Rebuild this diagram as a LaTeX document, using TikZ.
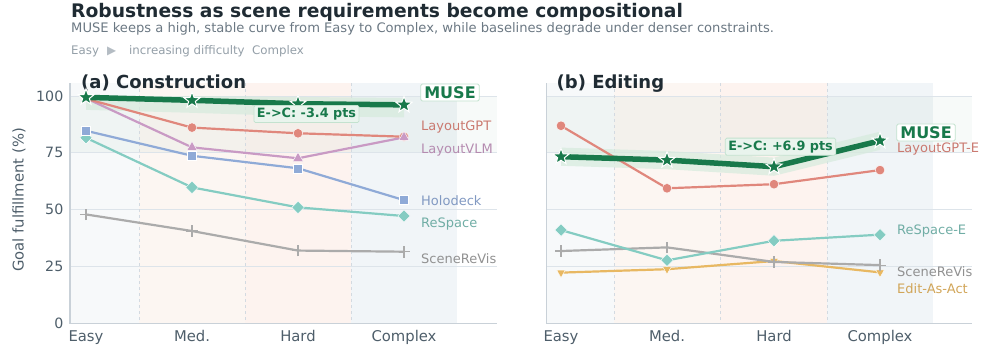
\documentclass[tikz,border=0pt]{standalone}
\usepackage{fontspec}
\setmainfont{DejaVu Sans}
\usetikzlibrary{shapes.geometric,shapes.misc}

\definecolor{musegreen}{HTML}{18794B}
\definecolor{museband}{HTML}{D6EBDD}
\definecolor{gptred}{HTML}{E0877C}
\definecolor{vlmpink}{HTML}{C99AC4}
\definecolor{holoblue}{HTML}{8FAAD7}
\definecolor{respteal}{HTML}{84CCC2}
\definecolor{revisgray}{HTML}{ABABAB}
\definecolor{actgold}{HTML}{E8B862}
\definecolor{inkdark}{HTML}{1F2B33}
\definecolor{inkgray}{HTML}{6B7883}
\definecolor{inklight}{HTML}{949FA8}
\definecolor{arrowgray}{HTML}{B4BCC3}
\definecolor{tickink}{HTML}{4E5E6A}
\definecolor{gridc}{HTML}{DDE4EA}
\definecolor{spinec}{HTML}{C9D1D8}
\definecolor{dividerc}{HTML}{D3DAE1}
\definecolor{bandeasy}{HTML}{F7F9FA}
\definecolor{bandmed}{HTML}{FCF6F2}
\definecolor{bandhard}{HTML}{FDF3EF}
\definecolor{bandcomplex}{HTML}{F1F5F8}
\definecolor{boxfill}{HTML}{E9F4ED}
\definecolor{boxedge}{HTML}{C3E2CF}

\tikzset{
  series/.style={line width=2.2pt, line join=round, line cap=round},
  museline/.style={line width=5.5pt, musegreen, line join=round, line cap=round},
  starmark/.style={star, star points=5, star point ratio=2.4, fill=musegreen, draw=white, line width=1pt, minimum size=17pt, inner sep=0pt},
  dotmark/.style={circle, draw=white, line width=0.4pt, minimum size=9.5pt, inner sep=0pt},
  trimark/.style={regular polygon, regular polygon sides=3, draw=white, line width=0.4pt, minimum size=12pt, inner sep=0pt},
  downmark/.style={trimark, shape border rotate=180},
  boxmark/.style={rectangle, minimum size=9pt, inner sep=0pt, draw=white, line width=0.4pt},
  diamark/.style={diamond, minimum size=12.5pt, inner sep=0pt, draw=white, line width=0.4pt},
  plusmark/.style={cross out, rotate=45, draw, line width=1.2pt, minimum size=7pt, inner sep=0pt},
  seriestag/.style={anchor=west, inner sep=0pt, font=\fontsize{13}{15}\selectfont},
  musetag/.style={draw=boxedge, fill=white, line width=0.8pt, rounded corners=1.5pt, inner xsep=3.5pt, inner ysep=2.5pt, text=musegreen, font=\bfseries\fontsize{16}{18}\selectfont},
  gaptag/.style={draw=boxedge, fill=boxfill, line width=0.8pt, rounded corners=1.5pt, inner xsep=3pt, inner ysep=2.5pt, text=musegreen, font=\bfseries\fontsize{12.8}{14}\selectfont},
  ticktag/.style={text=tickink, inner sep=0pt, font=\fontsize{14.2}{16}\selectfont},
  xtag/.style={text=tickink, inner sep=0pt, anchor=base, font=\fontsize{14.8}{16}\selectfont},
  leadtag/.style={anchor=base west, inner sep=0pt, text=inklight, font=\fontsize{11.8}{13}\selectfont},
  paneltitle/.style={anchor=base west, inner sep=0pt, text=inkdark, font=\bfseries\fontsize{18}{20}\selectfont},
  gridline/.style={gridc, line width=0.8pt},
  spine/.style={spinec, line width=1.2pt},
  divider/.style={dividerc, line width=0.8pt, dashed}
}

\begin{document}
\begin{tikzpicture}[x=1pt,y=1pt]
\useasboundingbox (0,0) rectangle (981,-348);

% heading
\node[anchor=base west, inner sep=0pt, text=inkdark, font=\bfseries\fontsize{18.7}{20}\selectfont] (title) at (71,-17.5) {Robustness as scene requirements become compositional};
\node[anchor=base west, inner sep=0pt, text=inkgray, font=\fontsize{13.1}{15}\selectfont] (subtitle) at (71,-32.5) {MUSE keeps a high, stable curve from Easy to Complex, while baselines degrade under denser constraints.};
\node[leadtag] (leadeasy) at (71,-54.3) {Easy};
\node[leadtag, text=arrowgray] (leadarrow) at (107,-54.3) {▶};
\node[leadtag] (leadmid) at (129,-54.3) {increasing difficulty};
\node[leadtag] (leadcomplex) at (252,-54.3) {Complex};

% difficulty bands
\fill[bandeasy] (70,-83) rectangle (139,-323);
\fill[bandmed] (139,-83) rectangle (245,-323);
\fill[bandhard] (245,-83) rectangle (351,-323);
\fill[bandcomplex] (351,-83) rectangle (457,-323);
\fill[bandeasy] (546.7,-83) rectangle (614,-323);
\fill[bandmed] (614,-83) rectangle (720,-323);
\fill[bandhard] (720,-83) rectangle (827,-323);
\fill[bandcomplex] (827,-83) rectangle (933,-323);

\begin{scope}[shift={(0,-323.3)},y=2.273pt]
% high zone tint
\fill[musegreen,opacity=0.035] (70,75) rectangle (497,100);
\fill[musegreen,opacity=0.035] (546.7,75) rectangle (972,100);
% grid
\draw[gridline] (70,25) -- (497,25);
\draw[gridline] (70,50) -- (497,50);
\draw[gridline] (70,75) -- (497,75);
\draw[gridline] (70,100) -- (497,100);
\draw[gridline] (546.7,25) -- (972,25);
\draw[gridline] (546.7,50) -- (972,50);
\draw[gridline] (546.7,75) -- (972,75);
\draw[gridline] (546.7,100) -- (972,100);
\end{scope}

\draw[divider] (139,-83) -- (139,-323);
\draw[divider] (245,-83) -- (245,-323);
\draw[divider] (351,-83) -- (351,-323);
\draw[divider] (614,-83) -- (614,-323);
\draw[divider] (720,-83) -- (720,-323);
\draw[divider] (827,-83) -- (827,-323);

% axes
\draw[spine] (70,-83) -- (70,-323.3) -- (497,-323.3);
\draw[spine] (546.7,-83) -- (546.7,-323.3) -- (972,-323.3);

\node[ticktag, anchor=east] (t0) at (63.5,-323.3) {0};
\node[ticktag, anchor=east] (t25) at (63.5,-266.5) {25};
\node[ticktag, anchor=east] (t50) at (63.5,-209.7) {50};
\node[ticktag, anchor=east] (t75) at (63.5,-152.8) {75};
\node[ticktag, anchor=east] (t100) at (63.5,-96) {100};
\node[ticktag, rotate=90, font=\fontsize{14.8}{16}\selectfont] (ylab) at (19,-200) {Goal fulfillment (\%)};

\node[xtag] (xa1) at (86,-341.5) {Easy};
\node[xtag] (xa2) at (192,-341.5) {Med.};
\node[xtag] (xa3) at (298,-341.5) {Hard};
\node[xtag] (xa4) at (404,-341.5) {Complex};
\node[xtag] (xb1) at (561,-341.5) {Easy};
\node[xtag] (xb2) at (667,-341.5) {Med.};
\node[xtag] (xb3) at (774,-341.5) {Hard};
\node[xtag] (xb4) at (880,-341.5) {Complex};

\node[paneltitle] (pa) at (81,-88) {(a) Construction};
\node[paneltitle] (pb) at (556.5,-88) {(b) Editing};

\begin{scope}[shift={(0,-323.3)},y=2.273pt]
% (a) Construction
\fill[museband,opacity=0.7] (86,100) -- (192,100) -- (298,99.6) -- (404,99.1) -- (404,90.6) -- (298,91.1) -- (192,92.6) -- (86,93.9) -- cycle;

\coordinate (arv1) at (86,47.9); \coordinate (arv2) at (192,40.6); \coordinate (arv3) at (298,32.0); \coordinate (arv4) at (404,31.5);
\draw[series,revisgray] (arv1) -- (arv2) -- (arv3) -- (arv4);
\node[plusmark,revisgray] (marv1) at (arv1) {};
\node[plusmark,revisgray] (marv2) at (arv2) {};
\node[plusmark,revisgray] (marv3) at (arv3) {};
\node[plusmark,revisgray] (marv4) at (arv4) {};

\coordinate (asp1) at (86,81.6); \coordinate (asp2) at (192,59.8); \coordinate (asp3) at (298,51.0); \coordinate (asp4) at (404,47.2);
\draw[series,respteal] (asp1) -- (asp2) -- (asp3) -- (asp4);
\node[diamark,fill=respteal] (masp1) at (asp1) {};
\node[diamark,fill=respteal] (masp2) at (asp2) {};
\node[diamark,fill=respteal] (masp3) at (asp3) {};
\node[diamark,fill=respteal] (masp4) at (asp4) {};

\coordinate (aho1) at (86,84.7); \coordinate (aho2) at (192,73.7); \coordinate (aho3) at (298,68.2); \coordinate (aho4) at (404,54.2);
\draw[series,holoblue] (aho1) -- (aho2) -- (aho3) -- (aho4);
\node[boxmark,fill=holoblue] (maho1) at (aho1) {};
\node[boxmark,fill=holoblue] (maho2) at (aho2) {};
\node[boxmark,fill=holoblue] (maho3) at (aho3) {};
\node[boxmark,fill=holoblue] (maho4) at (aho4) {};

\coordinate (avl1) at (86,99.0); \coordinate (avl2) at (192,77.4); \coordinate (avl3) at (298,72.6); \coordinate (avl4) at (404,81.8);
\draw[series,vlmpink] (avl1) -- (avl2) -- (avl3) -- (avl4);
\node[trimark,fill=vlmpink] (mavl2) at (avl2) {};
\node[trimark,fill=vlmpink] (mavl3) at (avl3) {};

\coordinate (agp1) at (86,98.8); \coordinate (agp2) at (192,86.1); \coordinate (agp3) at (298,83.6); \coordinate (agp4) at (404,82.1);
\draw[series,gptred] (agp1) -- (agp2) -- (agp3) -- (agp4);
\node[dotmark,fill=gptred] (magp2) at (agp2) {};
\node[dotmark,fill=gptred] (magp3) at (agp3) {};
\node[dotmark,fill=gptred,opacity=0.8] (magp4) at (agp4) {};
\node[trimark,fill=vlmpink] (mavl4) at (avl4) {};

\coordinate (amu1) at (86,99.4); \coordinate (amu2) at (192,98.1); \coordinate (amu3) at (298,96.6); \coordinate (amu4) at (404,96.1);
\draw[museline] (amu1) -- (amu2) -- (amu3) -- (amu4);
\node[starmark] (mamu1) at (amu1) {};
\node[starmark] (mamu2) at (amu2) {};
\node[starmark] (mamu3) at (amu3) {};
\node[starmark] (mamu4) at (amu4) {};

% (b) Editing
\fill[museband,opacity=0.7] (561,77.3) -- (667,75.8) -- (774,72.9) -- (880,84.3) -- (880,76.3) -- (774,64.9) -- (667,67.8) -- (561,69.3) -- cycle;

\coordinate (bac1) at (561,22.3); \coordinate (bac2) at (667,23.8); \coordinate (bac3) at (774,27.4); \coordinate (bac4) at (880,22.4);
\draw[series,actgold] (bac1) -- (bac2) -- (bac3) -- (bac4);
\node[downmark,fill=actgold,minimum size=10pt] (mbac1) at (bac1) {};
\node[downmark,fill=actgold,minimum size=10pt] (mbac2) at (bac2) {};
\node[downmark,fill=actgold,minimum size=10pt] (mbac3) at (bac3) {};
\node[downmark,fill=actgold,minimum size=10pt] (mbac4) at (bac4) {};

\coordinate (brv1) at (561,31.8); \coordinate (brv2) at (667,33.4); \coordinate (brv3) at (774,27.0); \coordinate (brv4) at (880,25.6);
\draw[series,revisgray] (brv1) -- (brv2) -- (brv3) -- (brv4);
\node[plusmark,revisgray] (mbrv1) at (brv1) {};
\node[plusmark,revisgray] (mbrv2) at (brv2) {};
\node[plusmark,revisgray] (mbrv3) at (brv3) {};
\node[plusmark,revisgray] (mbrv4) at (brv4) {};

\coordinate (bsp1) at (561,41.0); \coordinate (bsp2) at (667,27.7); \coordinate (bsp3) at (774,36.3); \coordinate (bsp4) at (880,39.0);
\draw[series,respteal] (bsp1) -- (bsp2) -- (bsp3) -- (bsp4);
\node[diamark,fill=respteal] (mbsp1) at (bsp1) {};
\node[diamark,fill=respteal] (mbsp2) at (bsp2) {};
\node[diamark,fill=respteal] (mbsp3) at (bsp3) {};
\node[diamark,fill=respteal] (mbsp4) at (bsp4) {};

\coordinate (bgp1) at (561,86.9); \coordinate (bgp2) at (667,59.4); \coordinate (bgp3) at (774,61.2); \coordinate (bgp4) at (880,67.4);
\draw[series,gptred] (bgp1) -- (bgp2) -- (bgp3) -- (bgp4);
\node[dotmark,fill=gptred] (mbgp1) at (bgp1) {};
\node[dotmark,fill=gptred] (mbgp2) at (bgp2) {};
\node[dotmark,fill=gptred] (mbgp3) at (bgp3) {};
\node[dotmark,fill=gptred] (mbgp4) at (bgp4) {};

\coordinate (bmu1) at (561,73.3); \coordinate (bmu2) at (667,71.8); \coordinate (bmu3) at (774,68.9); \coordinate (bmu4) at (880,80.3);
\draw[museline] (bmu1) -- (bmu2) -- (bmu3) -- (bmu4);
\node[starmark] (mbmu1) at (bmu1) {};
\node[starmark] (mbmu2) at (bmu2) {};
\node[starmark] (mbmu3) at (bmu3) {};
\node[starmark] (mbmu4) at (bmu4) {};
\end{scope}

% gap call-outs
\node[gaptag] (gapa) at (306.5,-114) {E->C: -3.4 pts};
\node[gaptag] (gapb) at (780.5,-146.7) {E->C: +6.9 pts};

% series names
\node[musetag] (muselaba) at (450,-92.5) {MUSE};
\node[seriestag, text=gptred!90!black] (laba1) at (421,-126.7) {LayoutGPT};
\node[seriestag, text=vlmpink!90!black] (laba2) at (421,-150) {LayoutVLM};
\node[seriestag, text=holoblue!90!black] (laba3) at (421,-201) {Holodeck};
\node[seriestag, text=respteal!85!black] (laba4) at (421,-224.3) {ReSpace};
\node[seriestag, text=revisgray!85!black] (laba5) at (421,-258.3) {SceneReVis};

\node[musetag] (muselabb) at (926,-132.5) {MUSE};
\node[seriestag, text=gptred!90!black] (labb1) at (897,-148.8) {LayoutGPT-E};
\node[seriestag, text=respteal!85!black] (labb2) at (897,-231) {ReSpace-E};
\node[seriestag, text=revisgray!85!black] (labb3) at (897,-271.7) {SceneReVis};
\node[seriestag, text=actgold!90!black] (labb4) at (897,-288.3) {Edit-As-Act};
\end{tikzpicture}
\end{document}
